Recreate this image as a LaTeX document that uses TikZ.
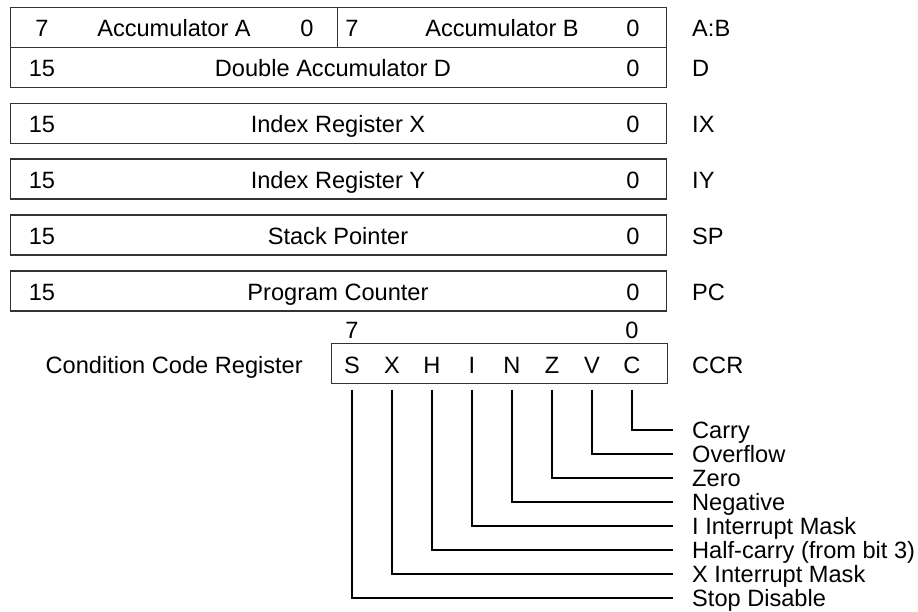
\documentclass[tikz,border=0pt]{standalone}
\usepackage{fontspec}
\setmainfont{Liberation Sans}
\begin{document}
\begin{tikzpicture}[x=1pt,y=-1pt,
    reg/.style={draw=black!80,line width=1.2pt,anchor=north west,minimum height=40pt,inner sep=0pt},
    txt/.style={inner sep=0pt,text height=16.9pt,text depth=0pt,font=\fontsize{23.6}{24}\selectfont},
    tag/.style={txt,anchor=west},
    link/.style={line width=2pt}]
      \useasboundingbox (0,0) rectangle (918,611);
      \node[reg,minimum width=327pt] (ra) at (10,7) {};
      \node[reg,minimum width=329pt] (rb) at (337,7) {};
      \node[reg,minimum width=656pt] (rd) at (10,47) {};
      \node[reg,minimum width=656pt] (rx) at (10,102.7) {};
      \node[reg,minimum width=656pt] (ry) at (10,158.3) {};
      \node[reg,minimum width=656pt] (rs) at (10,214.3) {};
      \node[reg,minimum width=656pt] (rp) at (10,270.3) {};
      \node[reg,minimum width=336pt] (ccr) at (330.7,342.7) {};
      \draw
        (42,28) node[txt] (a7){7}
        (174,28) node[txt] (an){Accumulator A}
        (307,28) node[txt] (a0){0}
        (352,28) node[txt] (b7){7}
        (502,28) node[txt] (bn){Accumulator B}
        (633,28) node[txt] (b0){0}
        (692,28) node[tag] (ab){A:B}
        (42,68) node[txt] (d15){15}
        (333,68) node[txt] (dn){Double Accumulator D}
        (633,68) node[txt] (d0){0}
        (692,68) node[tag] (d){D}
        (42,124) node[txt] (x15){15}
        (338,124) node[txt] (xn){Index Register X}
        (633,124) node[txt] (x0){0}
        (692,124) node[tag] (ix){IX}
        (42,180) node[txt] (y15){15}
        (338,180) node[txt] (yn){Index Register Y}
        (633,180) node[txt] (y0){0}
        (692,180) node[tag] (iy){IY}
        (42,236) node[txt] (s15){15}
        (338,236) node[txt] (sn){Stack Pointer}
        (633,236) node[txt] (s0){0}
        (692,236) node[tag] (sp){SP}
        (42,292) node[txt] (p15){15}
        (338,292) node[txt] (pn){Program Counter}
        (633,292) node[txt] (p0){0}
        (692,292) node[tag] (pc){PC}
        (352,330) node[txt] (c7){7}
        (632,330) node[txt] (c0){0}
        (303,365) node[txt,anchor=east] (cn){Condition Code Register}
        (692,365) node[tag] (ccrn){CCR};
      \draw
        (352,365) node[txt] (bS){S}
        (392,365) node[txt] (bX){X}
        (432,365) node[txt] (bH){H}
        (472,365) node[txt] (bI){I}
        (512,365) node[txt] (bN){N}
        (552,365) node[txt] (bZ){Z}
        (592,365) node[txt] (bV){V}
        (632,365) node[txt] (bC){C};
      \draw
        (692,430) node[tag] (lC){Carry}
        (692,454) node[tag] (lV){Overflow}
        (692,478) node[tag] (lZ){Zero}
        (692,502) node[tag] (lN){Negative}
        (692,526) node[tag] (lI){I Interrupt Mask}
        (692,550) node[tag] (lH){Half-carry (from bit 3)}
        (692,574) node[tag] (lX){X Interrupt Mask}
        (692,598) node[tag] (lS){Stop Disable};
      \begin{scope}[link]
        \draw ([yshift=-16pt]bC.south) |- ([xshift=-19pt]lC.west);
        \draw ([yshift=-16pt]bV.south) |- ([xshift=-19pt]lV.west);
        \draw ([yshift=-16pt]bZ.south) |- ([xshift=-19pt]lZ.west);
        \draw ([yshift=-16pt]bN.south) |- ([xshift=-19pt]lN.west);
        \draw ([yshift=-16pt]bI.south) |- ([xshift=-19pt]lI.west);
        \draw ([yshift=-16pt]bH.south) |- ([xshift=-19pt]lH.west);
        \draw ([yshift=-16pt]bX.south) |- ([xshift=-19pt]lX.west);
        \draw ([yshift=-16pt]bS.south) |- ([xshift=-19pt]lS.west);
      \end{scope}
    \end{tikzpicture}
\end{document}
